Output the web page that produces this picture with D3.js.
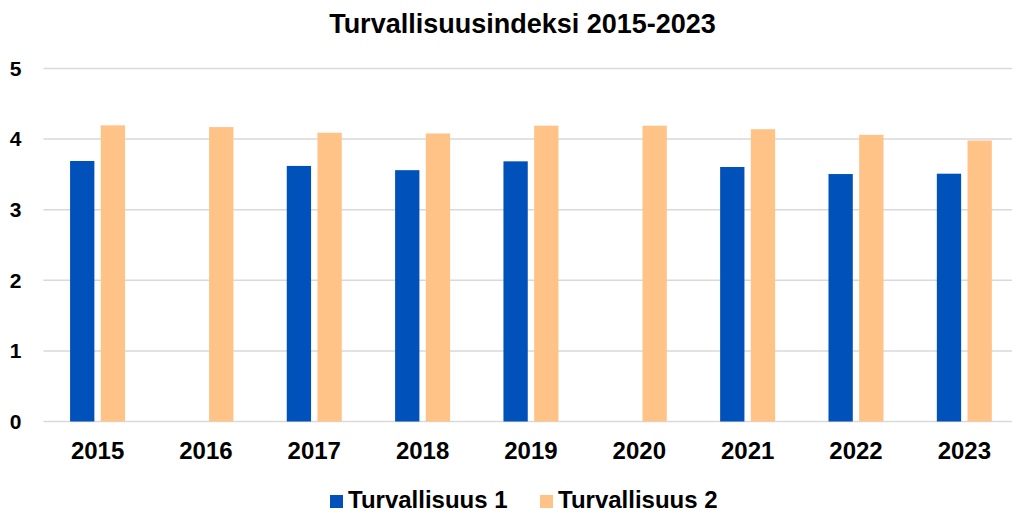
<!DOCTYPE html>
<html><head><meta charset="utf-8">
<script src="https://cdn.jsdelivr.net/npm/d3@7"></script>
<style>body{margin:0;background:#fff}svg{display:block;font-family:"Liberation Sans",Arial,sans-serif}</style>
</head><body><svg id="c" width="1012" height="510"></svg>
<script>
const years = ["2015","2016","2017","2018","2019","2020","2021","2022","2023"];
const series1 = [3.69, null, 3.62, 3.56, 3.685, null, 3.605, 3.505, 3.51];
const series2 = [4.195, 4.17, 4.09, 4.08, 4.19, 4.19, 4.14, 4.06, 3.98];
const seriesNames = ["Turvallisuus 1", "Turvallisuus 2"];
const colors = ["#0051BA", "#FFC387"];
const yTicks = [0,1,2,3,4,5];

(function(){
const svg = d3.select("#c");
const pL = 43.4, pR = 1018.5, pT = 68.5, pB = 421.5;
const x = d3.scaleBand().domain(years).range([pL, pR]).paddingInner(0).paddingOuter(0);
const y = d3.scaleLinear().domain([0,5]).range([pB, pT]);
const barW = 24.3, gap = 6.4;

svg.append("text").attr("x", 522.5).attr("y", 33).attr("text-anchor","middle")
  .attr("font-size", 27).attr("font-weight","bold").text("Turvallisuusindeksi 2015-2023");

const g = svg.append("g");
g.selectAll("line.grid").data(yTicks).join("line")
  .attr("x1", pL).attr("x2", pR).attr("y1", d=>y(d)).attr("y2", d=>y(d))
  .attr("stroke", "#d9d9d9").attr("stroke-width", 1.5);
g.selectAll("text.yl").data(yTicks).join("text")
  .attr("x", 15.5).attr("y", d=>y(d)).attr("dy","0.35em").attr("text-anchor","middle")
  .attr("font-size", 21).attr("font-weight","bold").text(d=>d);

const data = years.map((yr,i)=>({yr, v:[series1[i], series2[i]]}));
data.forEach(d=>{
  const c = x(d.yr) + x.bandwidth()/2;
  d.v.forEach((v,k)=>{
    if (v == null) return;
    const x0 = k===0 ? c - gap/2 - barW : c + gap/2;
    g.append("rect").attr("x", x0).attr("width", barW)
      .attr("y", y(v)).attr("height", y(0)-y(v)).attr("fill", colors[k]);
  });
});
g.selectAll("text.xl").data(years).join("text")
  .attr("x", d=>x(d)+x.bandwidth()/2).attr("y", 458.5).attr("text-anchor","middle")
  .attr("font-size", 24).attr("font-weight","bold").text(d=>d);

const lg = svg.append("g");
const legX = [330, 540];
seriesNames.forEach((n,k)=>{
  lg.append("rect").attr("x", legX[k]).attr("y", 495).attr("width", 13).attr("height", 13).attr("fill", colors[k]);
  lg.append("text").attr("x", legX[k]+18).attr("y", 508).attr("font-size", 24).attr("font-weight","bold").text(n);
});
})();
</script></body></html>
